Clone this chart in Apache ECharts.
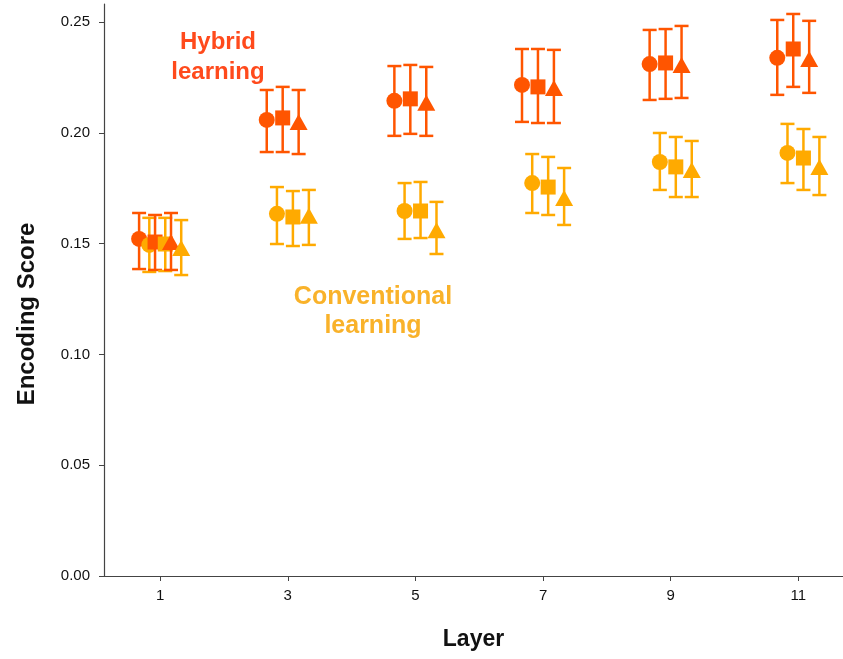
<!DOCTYPE html>
<html>
<head>
<meta charset="utf-8">
<script src="https://cdn.jsdelivr.net/npm/echarts@6/dist/echarts.min.js"></script>
<style>
  html, body { margin: 0; padding: 0; background: #fff; }
  #chart { width: 843px; height: 659px; }
</style>
</head>
<body>
<div id="chart"></div>
<script>
// layers on the x axis
const layers = [1, 3, 5, 7, 9, 11];
const yTicks = [0, 0.05, 0.1, 0.15, 0.2, 0.25];

// hybrid learning (mean, lower, upper)
const hybridCircle = [0.1521, 0.2058, 0.2144, 0.2216, 0.2310, 0.2338];
const hybridCircleLo = [0.1385, 0.1913, 0.1986, 0.2049, 0.2148, 0.2171];
const hybridCircleHi = [0.1638, 0.2193, 0.2301, 0.2378, 0.2464, 0.2509];
const hybridSquare = [0.1507, 0.2067, 0.2153, 0.2207, 0.2315, 0.2378];
const hybridSquareLo = [0.1381, 0.1913, 0.1995, 0.2044, 0.2153, 0.2207];
const hybridSquareHi = [0.1629, 0.2207, 0.2306, 0.2378, 0.2468, 0.2536];
const hybridTriangle = [0.1507, 0.2049, 0.2135, 0.2202, 0.2306, 0.2333];
const hybridTriangleLo = [0.1381, 0.1904, 0.1986, 0.2044, 0.2157, 0.2180];
const hybridTriangleHi = [0.1638, 0.2193, 0.2297, 0.2374, 0.2482, 0.2505];

// conventional learning (mean, lower, upper)
const convCircle = [0.1494, 0.1634, 0.1647, 0.1773, 0.1868, 0.1909];
const convCircleLo = [0.1372, 0.1498, 0.1521, 0.1638, 0.1742, 0.1773];
const convCircleHi = [0.1616, 0.1755, 0.1773, 0.1904, 0.1999, 0.2040];
const convSquare = [0.1498, 0.1620, 0.1647, 0.1755, 0.1846, 0.1886];
const convSquareLo = [0.1376, 0.1489, 0.1525, 0.1629, 0.1710, 0.1742];
const convSquareHi = [0.1616, 0.1737, 0.1778, 0.1891, 0.1981, 0.2017];
const convTriangle = [0.1480, 0.1625, 0.1560, 0.1706, 0.1832, 0.1846];
const convTriangleLo = [0.1358, 0.1494, 0.1453, 0.1584, 0.1710, 0.1719];
const convTriangleHi = [0.1606, 0.1742, 0.1688, 0.1841, 0.1963, 0.1981];

const RED = "#FF5500";
const ORANGE = "#FFAA00";

const chart = echarts.init(document.getElementById("chart"));

// one marker group: scatter points + error bars, shifted sideways by dx
function group(name, mean, lo, hi, dx, color, symbol, size, z) {
  const pts = layers.map((l, i) => [l + dx, mean[i]]);
  const bars = layers.map((l, i) => [l + dx, lo[i], hi[i]]);
  return [
    {
      name: name + "-err",
      type: "custom",
      z: z,
      data: bars,
      renderItem: function (params, api) {
        const top = api.coord([api.value(0), api.value(2)]);
        const bot = api.coord([api.value(0), api.value(1)]);
        const cap = 7;
        const style = { stroke: color, lineWidth: 2.5 };
        return {
          type: "group",
          children: [
            { type: "line", shape: { x1: top[0], y1: top[1], x2: bot[0], y2: bot[1] }, style: style },
            { type: "line", shape: { x1: top[0] - cap, y1: top[1], x2: top[0] + cap, y2: top[1] }, style: style },
            { type: "line", shape: { x1: bot[0] - cap, y1: bot[1], x2: bot[0] + cap, y2: bot[1] }, style: style },
          ],
        };
      },
    },
    {
      name: name,
      type: "scatter",
      z: z + 0.5,
      symbol: symbol,
      symbolSize: size,
      itemStyle: { color: color, opacity: 1 },
      data: pts,
    },
  ];
}

const series = [].concat(
  group("hybridCircle", hybridCircle, hybridCircleLo, hybridCircleHi, -0.33, RED, "circle", 16, 2),
  group("convCircle", convCircle, convCircleLo, convCircleHi, -0.17, ORANGE, "circle", 16, 3),
  group("hybridSquare", hybridSquare, hybridSquareLo, hybridSquareHi, -0.08, RED, "rect", 15, 4),
  group("convSquare", convSquare, convSquareLo, convSquareHi, 0.08, ORANGE, "rect", 15, 5),
  group("hybridTriangle", hybridTriangle, hybridTriangleLo, hybridTriangleHi, 0.17, RED, "triangle", [18, 16], 6),
  group("convTriangle", convTriangle, convTriangleLo, convTriangleHi, 0.33, ORANGE, "triangle", [18, 16], 7)
);

const option = {
  backgroundColor: "#fff",
  animation: false,
  grid: { left: 104, right: 0, top: 4, bottom: 83, outerBoundsMode: "none" },
  xAxis: {
    type: "value",
    min: 0.12,
    max: 11.7,
    name: "Layer",
    nameLocation: "middle",
    nameGap: 52,
    nameTextStyle: { fontFamily: "Liberation Sans", fontWeight: "bold", fontSize: 23, color: "#111" },
    axisLine: { lineStyle: { color: "#444", width: 1.2 } },
    axisTick: { show: true, customValues: layers, length: 5, lineStyle: { color: "#444" } },
    axisLabel: { customValues: layers, margin: 12, fontFamily: "Liberation Sans", fontSize: 15, color: "#111" },
    splitLine: { show: false },
  },
  yAxis: {
    type: "value",
    min: 0,
    max: 0.2581,
    name: "Encoding Score",
    nameLocation: "middle",
    nameGap: 65,
    nameTextStyle: { fontFamily: "Liberation Sans", fontWeight: "bold", fontSize: 24, color: "#111", padding: [0, 48, 0, 0] },
    axisLine: { show: true, lineStyle: { color: "#444", width: 1.2 } },
    axisTick: { show: true, customValues: yTicks, length: 5, lineStyle: { color: "#444" } },
    axisLabel: {
      customValues: yTicks,
      margin: 14,
      fontFamily: "Liberation Sans",
      fontSize: 15,
      color: "#111",
      formatter: (v) => v.toFixed(2),
    },
    splitLine: { show: false },
  },
  graphic: [
    {
      type: "text",
      x: 218,
      y: 27,
      style: {
        text: "Hybrid\nlearning",
        align: "center",
        verticalAlign: "top",
        fill: "#FF4A1C",
        font: "bold 24px 'Liberation Sans'",
        lineHeight: 30,
      },
    },
    {
      type: "text",
      x: 373,
      y: 283,
      style: {
        text: "Conventional\nlearning",
        align: "center",
        verticalAlign: "top",
        fill: "#F9B22A",
        font: "bold 25px 'Liberation Sans'",
        lineHeight: 29,
      },
    },
  ],
  series: series,
};

chart.setOption(option);
</script>
</body>
</html>
